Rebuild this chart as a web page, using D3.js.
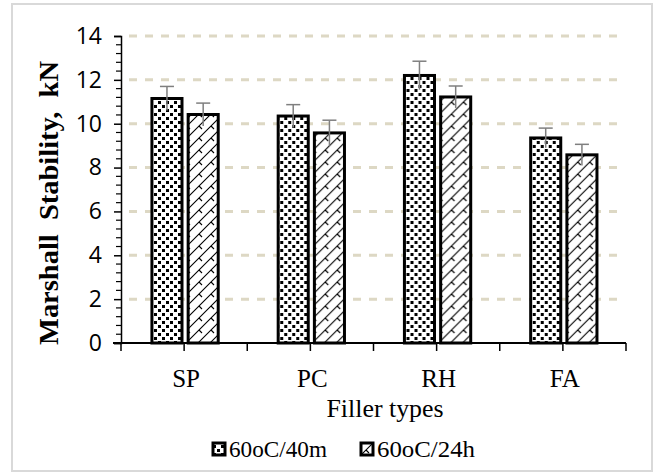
<!DOCTYPE html>
<html>
<head>
<meta charset="utf-8">
<script src="https://cdn.jsdelivr.net/npm/d3@7"></script>
<style>
    body { margin: 0; background: white; }
    text { font-family: "Liberation Serif", "Times New Roman", serif; fill: black; }
    .ytick { font-family: "Liberation Sans Narrow", "Open Sans", sans-serif; }
</style>
</head>
<body>
<svg id="chart" width="654" height="472"></svg>
<script>
    // data
    var categories = ["SP", "PC", "RH", "FA"]
    var seriesNames = ["60oC/40m", "60oC/24h"]
    var values40m = [11.15, 10.35, 12.2, 9.35]
    var values24h = [10.42, 9.58, 11.22, 8.58]
    var err40m = [0.55, 0.52, 0.65, 0.45]
    var err24h = [0.52, 0.58, 0.5, 0.48]
    var yTicks = [0, 2, 4, 6, 8, 10, 12, 14]

    var svg = d3.select("#chart")

    var plotL = 121, plotR = 626, plotT = 36, plotB = 343

    var x = d3.scaleBand().domain(categories).range([plotL, plotR])
    var bw = x.bandwidth()
    var x1 = d3.scaleBand().domain(seriesNames)
        .range([bw * 0.245, bw * 0.77]).paddingInner(0.17)
    var y = d3.scaleLinear().domain([0, 14]).range([plotB, plotT])

    // patterns
    var defs = svg.append("defs")
    var dots = defs.append("pattern").attr("id", "dots")
        .attr("patternUnits", "userSpaceOnUse").attr("width", 8).attr("height", 8)
    dots.append("rect").attr("width", 8).attr("height", 8).attr("fill", "white")
    dots.append("rect").attr("x", 1).attr("y", 1).attr("width", 3).attr("height", 3).attr("fill", "black")
    dots.append("rect").attr("x", 5).attr("y", 5).attr("width", 3).attr("height", 3).attr("fill", "black")

    var zig = defs.append("pattern").attr("id", "zig")
        .attr("patternUnits", "userSpaceOnUse").attr("width", 12).attr("height", 12)
    zig.append("rect").attr("width", 12).attr("height", 12).attr("fill", "white")
    zig.append("path").attr("d", "M0,12 L12,0 M-3,3 L3,-3 M9,15 L15,9 M6,6 L9,9")
        .attr("stroke", "black").attr("stroke-width", 1.1).attr("fill", "none")

    var fills = ["url(#dots)", "url(#zig)"]

    // frame
    svg.append("rect").attr("x", 12).attr("y", 4).attr("width", 640).attr("height", 467)
        .attr("fill", "none").attr("stroke", "#d9d9d9").attr("stroke-width", 2)

    // gridlines
    svg.append("g").selectAll("line")
        .data(yTicks.filter(d => d > 0))
        .enter().append("line")
        .attr("x1", plotL + 2).attr("x2", 617)
        .attr("y1", d => y(d)).attr("y2", d => y(d))
        .attr("stroke", "#ddd8c4").attr("stroke-width", 3)
        .attr("stroke-dasharray", "8,8")
        .attr("stroke-dashoffset", -6)

    // y axis
    var yAxis = d3.axisLeft(y).tickValues(yTicks).tickSize(7).tickPadding(12)
    var ga = svg.append("g").attr("transform", "translate(" + plotL + ",0)").call(yAxis)
    ga.attr("font-family", null).attr("font-size", null)
    ga.select(".domain").attr("stroke", "black").attr("stroke-width", 1.5)
    ga.selectAll(".tick line").attr("stroke", "black").attr("stroke-width", 1.5)
    ga.selectAll(".tick text").attr("class", "ytick").style("font-size", "23px")
        .attr("fill", "black")
    var minor = d3.range(0, 14.01, 0.4).filter(v => Math.abs(v / 2 - Math.round(v / 2)) > 0.01)
    svg.append("g").selectAll("line").data(minor).enter().append("line")
        .attr("x1", plotL - 5).attr("x2", plotL)
        .attr("y1", d => y(d)).attr("y2", d => y(d))
        .attr("stroke", "black").attr("stroke-width", 1.2)

    // bars
    var groups = svg.append("g").selectAll("g")
        .data(categories).enter().append("g")
        .attr("transform", d => "translate(" + x(d) + ",0)")

    groups.each(function (c, i) {
        var g = d3.select(this)
        var vals = [values40m[i], values24h[i]]
        var errs = [err40m[i], err24h[i]]
        seriesNames.forEach(function (s, j) {
            g.append("rect")
                .attr("x", x1(s)).attr("width", x1.bandwidth())
                .attr("y", y(vals[j])).attr("height", y(0) - y(vals[j]))
                .attr("fill", fills[j]).attr("stroke", "black").attr("stroke-width", 3)
            var cx = x1(s) + x1.bandwidth() / 2
            g.append("line").attr("x1", cx).attr("x2", cx)
                .attr("y1", y(vals[j] - errs[j])).attr("y2", y(vals[j] + errs[j]))
                .attr("stroke", "#7f7f7f").attr("stroke-width", 1.5)
            g.append("line").attr("x1", cx - 7).attr("x2", cx + 7)
                .attr("y1", y(vals[j] + errs[j])).attr("y2", y(vals[j] + errs[j]))
                .attr("stroke", "#7f7f7f").attr("stroke-width", 1.5)
        })
    })

    // x axis
    svg.append("line").attr("x1", plotL - 8).attr("x2", plotR).attr("y1", plotB).attr("y2", plotB)
        .attr("stroke", "black").attr("stroke-width", 2)
    var xt = d3.range(0, categories.length * 2 + 1).map(k => plotL + k * bw / 2)
    svg.append("g").selectAll("line").data(xt).enter().append("line")
        .attr("x1", d => d).attr("x2", d => d).attr("y1", plotB).attr("y2", plotB + 8)
        .attr("stroke", "black").attr("stroke-width", 1.5)
    svg.append("g").selectAll("text").data(categories).enter().append("text")
        .attr("x", d => x(d) + bw / 2 + 2).attr("y", 387)
        .attr("text-anchor", "middle").style("font-size", "25px")
        .text(d => d)

    // axis titles
    svg.append("text").attr("x", 385).attr("y", 417).attr("text-anchor", "middle")
        .style("font-size", "26px").attr("textLength", 117).attr("lengthAdjust", "spacingAndGlyphs")
        .text("Filler types")
    svg.append("text").attr("transform", "translate(58,203) rotate(-90)")
        .attr("text-anchor", "middle").style("font-size", "28px").style("font-weight", "bold")
        .attr("textLength", 284).attr("lengthAdjust", "spacingAndGlyphs")
        .style("white-space", "pre")
        .text("Marshall  Stability,  kN")

    // legend
    var legX = [213, 361], legTextX = [229, 377]
    seriesNames.forEach(function (s, j) {
        svg.append("rect").attr("x", legX[j]).attr("y", 443).attr("width", 12).attr("height", 12)
            .attr("fill", fills[j]).attr("stroke", "black").attr("stroke-width", 3)
        svg.append("text").attr("x", legTextX[j]).attr("y", 457)
            .style("font-size", "23px").attr("textLength", 98).attr("lengthAdjust", "spacingAndGlyphs")
            .text(s)
    })
</script>
</body>
</html>
